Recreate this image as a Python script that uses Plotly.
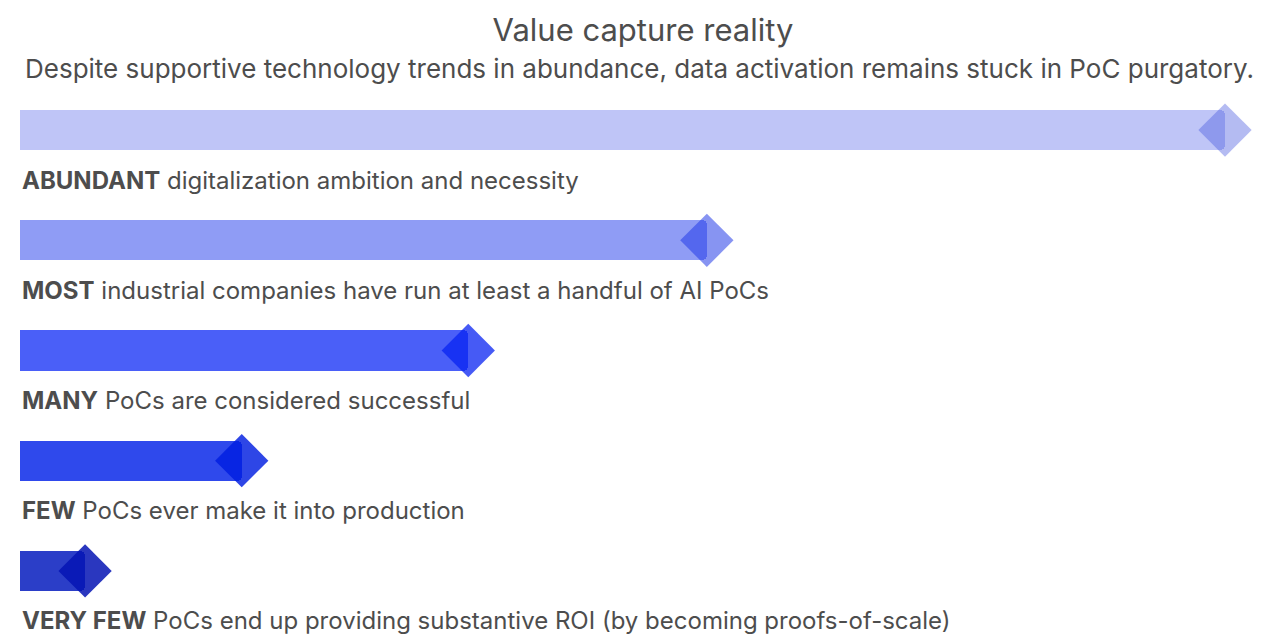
import plotly.graph_objects as go

# --- data ---
levels = ["ABUNDANT", "MOST", "MANY", "FEW", "VERY FEW"]
descriptions = [
    "digitalization ambition and necessity",
    "industrial companies have run at least a handful of AI PoCs",
    "PoCs are considered successful",
    "PoCs ever make it into production",
    "PoCs end up providing substantive ROI (by becoming proofs-of-scale)",
]
values = [100, 57, 37.2, 18.4, 5.4]
bar_colors = ["#bfc5f7", "#8f9cf5", "#4a5ff8", "#2f49ec", "#2b3ec8"]
# translucent, darker heads so the overlap with the bar reads darker
head_colors = [
    "rgba(74,91,223,0.41)",
    "rgba(36,60,231,0.55)",
    "rgba(8,35,241,0.75)",
    "rgba(0,29,224,0.82)",
    "rgba(5,20,180,0.85)",
]

positions = list(range(len(levels)))
text_color = "#4d4d4d"
font_family = "Inter, Open Sans, sans-serif"

fig = go.Figure()

fig.add_trace(go.Bar(
    x=values,
    y=positions,
    orientation="h",
    width=0.364,
    marker=dict(color=bar_colors, cornerradius=5, line=dict(width=0)),
    hoverinfo="skip",
))

# diamond heads at the end of each bar
fig.add_trace(go.Scatter(
    x=values,
    y=positions,
    mode="markers",
    marker=dict(symbol="diamond", size=41, color=head_colors,
                line=dict(width=0)),
    cliponaxis=False,
    hoverinfo="skip",
))

# labels under each bar
for i, (lvl, desc) in enumerate(zip(levels, descriptions)):
    fig.add_annotation(
        x=0, y=i, xref="x", yref="y",
        text=f"<b>{lvl}</b> {desc}",
        showarrow=False, xanchor="left", yanchor="middle",
        yshift=-50,
        font=dict(size=24, color=text_color, family=font_family),
    )

fig.add_annotation(
    x=0.514, y=1 + 7 / 551,
    xref="paper", yref="paper",
    text="Despite supportive technology trends in abundance, data activation remains stuck in PoC purgatory.",
    showarrow=False, xanchor="center", yanchor="middle",
    font=dict(size=26, color=text_color, family=font_family),
)

fig.update_layout(
    title=dict(text="Value capture reality", x=635 / 1268, xanchor="center",
               y=1 - 22 / 635, yanchor="middle",
               font=dict(size=31, color=text_color, family=font_family)),
    width=1268, height=635,
    margin=dict(l=12, r=51, t=67, b=17),
    paper_bgcolor="white", plot_bgcolor="white",
    showlegend=False,
    bargap=0,
    xaxis=dict(range=[0, 100], visible=False, fixedrange=True),
    yaxis=dict(range=[4.5, -0.5], visible=False, fixedrange=True),
)

fig.write_html("out.html")
